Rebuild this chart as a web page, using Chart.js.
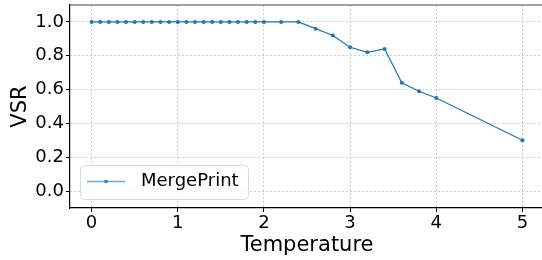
<!DOCTYPE html>
<html>
<head>
<meta charset="utf-8">
<script src="https://cdn.jsdelivr.net/npm/chart.js@4.4.0/dist/chart.umd.min.js"></script>
<style>
  html, body { margin: 0; padding: 0; background: #fff; overflow: hidden; }
  #wrap { width: 546px; height: 260px; }
</style>
</head>
<body>
<div id="wrap"><canvas id="vsr-chart"></canvas></div>
<script>
// temperature values and VSR
var temps = [0, 0.1, 0.2, 0.3, 0.4, 0.5, 0.6, 0.7, 0.8, 0.9, 1.0,
             1.1, 1.2, 1.3, 1.4, 1.5, 1.6, 1.7, 1.8, 1.9, 2.0,
             2.2, 2.4, 2.6, 2.8, 3.0, 3.2, 3.4, 3.6, 3.8, 4.0, 5.0];
var vsr = [1, 1, 1, 1, 1, 1, 1, 1, 1, 1, 1,
           1, 1, 1, 1, 1, 1, 1, 1, 1, 1,
           1, 1, 0.96, 0.92, 0.85, 0.82, 0.84, 0.64, 0.59, 0.55, 0.30];
var xTicks = [0, 1, 2, 3, 4, 5];
var yTicks = [0, 0.2, 0.4, 0.6, 0.8, 1.0];
var seriesName = "MergePrint";

var font = "'DejaVu Sans', sans-serif";
var gridColor = "#cccccc";

// matplotlib-like legend box inside the lower left of the axes
var insideLegend = {
  id: 'insideLegend',
  afterDraw: function(chart) {
    var c = chart.ctx;
    var ds = chart.data.datasets[0];
    var x = 80.5, y = 165.5, w = 168, h = 34, r = 4;
    c.save();
    c.beginPath();
    c.roundRect(x, y, w, h, r);
    c.fillStyle = "rgba(255,255,255,0.85)";
    c.fill();
    c.strokeStyle = "#d9d9d9";
    c.lineWidth = 1;
    c.stroke();
    var ly = y + h / 2 - 1;
    c.strokeStyle = "rgba(31,119,180,0.65)";
    c.lineWidth = 1.5;
    c.beginPath();
    c.moveTo(87, ly);
    c.lineTo(125, ly);
    c.stroke();
    c.fillStyle = "rgba(31,119,180,0.9)";
    c.beginPath();
    c.arc(106, ly, 1.8, 0, Math.PI * 2);
    c.fill();
    c.fillStyle = "#000";
    c.font = "18px " + font;
    c.textBaseline = "middle";
    c.fillText(ds.label, 141, ly);
    c.restore();
  }
};

var ctx = document.getElementById("vsr-chart").getContext('2d');
var chart = new Chart(ctx, {
  type: 'line',
  data: {
    datasets: [{
      label: seriesName,
      data: temps.map(function(t, i) { return {x: t, y: vsr[i]}; }),
      borderColor: "#1f77b4",
      backgroundColor: "#1f77b4",
      borderWidth: 1.2,
      pointRadius: 2,
      pointBorderWidth: 0,
      pointHoverRadius: 2,
      fill: false,
      tension: 0
    }]
  },
  options: {
    responsive: true,
    maintainAspectRatio: false,
    animation: false,
    events: [],
    layout: { padding: { top: 5, right: 2, left: 0, bottom: 0 } },
    plugins: {
      legend: { display: false },
      tooltip: { enabled: false }
    },
    scales: {
      x: {
        type: 'linear',
        min: -0.25,
        max: 5.25,
        afterBuildTicks: function(scale) {
          scale.ticks = xTicks.map(function(v) { return {value: v}; });
        },
        afterFit: function(scale) {
          scale.height = 52;
          scale.paddingLeft = 0;
          scale.paddingRight = 0;
        },
        ticks: {
          font: { family: font, size: 18 },
          color: "#000",
          padding: 1,
          maxRotation: 0,
          callback: function(v) { return String(v); }
        },
        grid: {
          color: gridColor,
          tickBorderDash: [],
          tickColor: "#000",
          tickLength: 4,
          lineWidth: 1
        },
        border: { display: true, color: "#000", width: 1.2, dash: [2, 2] },
        title: {
          display: true,
          text: "Temperature",
          font: { family: font, size: 21 },
          color: "#000",
          padding: { top: 0, bottom: 2 }
        }
      },
      y: {
        min: -0.1,
        max: 1.1,
        afterBuildTicks: function(scale) {
          scale.ticks = yTicks.map(function(v) { return {value: v}; });
        },
        afterFit: function(scale) {
          scale.width = 70;
          scale.paddingTop = 0;
          scale.paddingBottom = 0;
        },
        ticks: {
          font: { family: font, size: 18 },
          color: "#000",
          padding: 2,
          callback: function(v) { return v.toFixed(1); }
        },
        grid: {
          color: gridColor,
          tickBorderDash: [],
          tickColor: "#000",
          tickLength: 4,
          lineWidth: 1
        },
        border: { display: true, color: "#000", width: 1.2, dash: [2, 2] },
        title: {
          display: true,
          text: "VSR",
          font: { family: font, size: 21 },
          color: "#000",
          padding: { top: 8, bottom: 0 }
        }
      }
    }
  },
  plugins: [insideLegend, {
    id: 'topSpine',
    afterDraw: function(chart) {
      var a = chart.chartArea, c = chart.ctx;
      c.save();
      c.strokeStyle = "#444";
      c.lineWidth = 1.2;
      c.beginPath();
      c.moveTo(a.left, a.top);
      c.lineTo(a.right, a.top);
      c.moveTo(a.right, a.top);
      c.lineTo(a.right, a.bottom);
      c.stroke();
      c.restore();
    }
  }]
});
</script>
</body>
</html>
